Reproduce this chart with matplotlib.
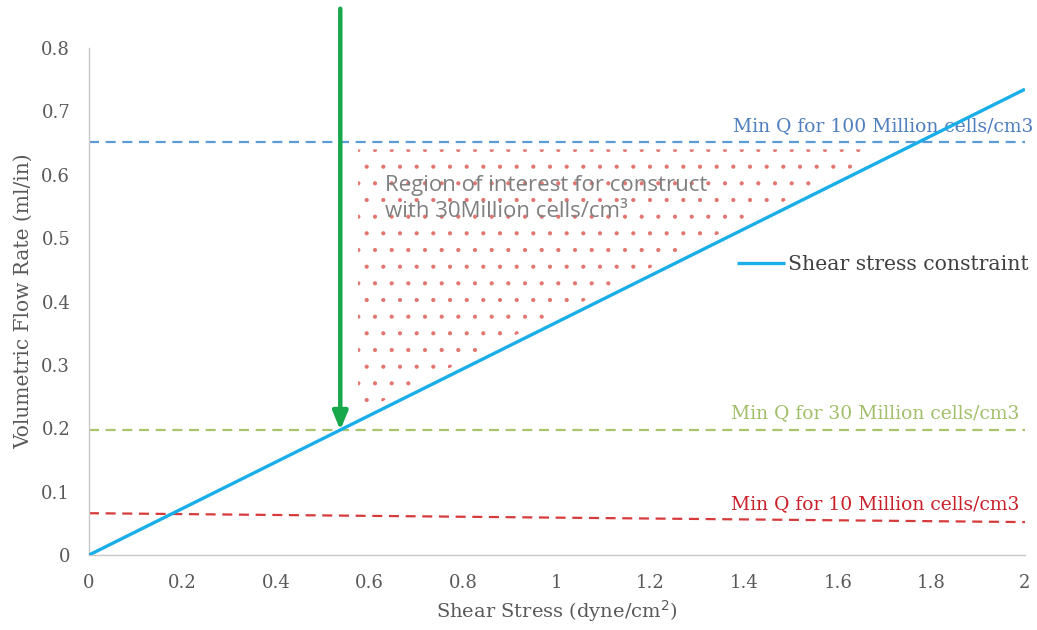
import matplotlib
matplotlib.use("Agg")
import matplotlib.pyplot as plt
import numpy as np

# Shear stress constraint line (dyne/cm^2 vs ml/in)
shear_x = [0.0, 2.0]
shear_q = [0.0, 0.735]

# Minimum flow rate for each cell density
minq_100_x = [0.0, 2.0]
minq_100_y = [0.651, 0.651]
minq_30_x = [0.0, 2.0]
minq_30_y = [0.197, 0.197]
minq_10_x = [0.0, 2.0]
minq_10_y = [0.066, 0.052]

# Operating point where 30M threshold meets the shear constraint
arrow_x = 0.537
arrow_top = 0.862
arrow_tip = 0.197

# Region of interest bounds
roi_x = [0.575, 1.66]
roi_top = 0.64

x_ticks = [0, 0.2, 0.4, 0.6, 0.8, 1, 1.2, 1.4, 1.6, 1.8, 2]
x_tick_labels = ["0", "0.2", "0.4", "0.6", "0.8", "1", "1.2", "1.4", "1.6", "1.8", "2"]
y_ticks = [0, 0.1, 0.2, 0.3, 0.4, 0.5, 0.6, 0.7, 0.8]
y_tick_labels = ["0", "0.1", "0.2", "0.3", "0.4", "0.5", "0.6", "0.7", "0.8"]

SERIF = ["DejaVu Serif"]
TICK_COLOR = "#595959"

plt.rcParams["hatch.linewidth"] = 0.55

fig = plt.figure(figsize=(10.37, 6.30), dpi=100)
ax = fig.add_axes([0.0858, 0.119, 0.9026, 0.8048])
ax.set_xlim(0, 2)
ax.set_ylim(0, 0.8)

# dotted region of interest above the shear line
slope = (shear_q[1] - shear_q[0]) / (shear_x[1] - shear_x[0])
xr = np.linspace(roi_x[0], roi_x[1], 200)
lower = np.minimum(slope * xr + 0.012, roi_top)
ax.fill_between(xr, lower, roi_top, facecolor="none", edgecolor="#e2746e",
                hatch=".", linewidth=0, zorder=1)

# threshold lines
ax.plot(minq_100_x, minq_100_y, color="#5b9bd5", lw=1.6, dashes=(4.5, 3), zorder=2)
ax.plot(minq_30_x, minq_30_y, color="#a9c46b", lw=1.6, dashes=(4.5, 3), zorder=2)
ax.plot(minq_10_x, minq_10_y, color="#d63a3a", lw=1.6, dashes=(4.5, 3), zorder=2)

# shear stress constraint
ax.plot(shear_x, shear_q, color="#1aaee8", lw=2.4, zorder=4,
        solid_capstyle="butt", label="Shear stress constraint")

# downward arrow to the operating point
ax.annotate("", xy=(arrow_x, arrow_tip), xytext=(arrow_x, arrow_top),
            arrowprops=dict(arrowstyle="-|>,head_length=1.1,head_width=0.45",
                            color="#16a84a", lw=3.2, shrinkA=0, shrinkB=0),
            annotation_clip=False, zorder=5)

# labels for the thresholds
ax.text(2.017, 0.676, "Min Q for 100 Million cells/cm3", color="#4f7fbf",
        ha="right", va="center", fontsize=13.5, family=SERIF)
ax.text(1.989, 0.224, "Min Q for 30 Million cells/cm3", color="#a2bf6a",
        ha="right", va="center", fontsize=13.5, family=SERIF)
ax.text(1.989, 0.081, "Min Q for 10 Million cells/cm3", color="#c9202a",
        ha="right", va="center", fontsize=13.5, family=SERIF)

ax.text(0.632, 0.562, "Region of interest for construct\nwith 30Million cells/cm\u00b3",
        color="#808080", ha="left", va="center", fontsize=16,
        family=["Open Sans", "DejaVu Sans"], linespacing=1.3, zorder=6)

leg = ax.legend(loc="upper left", bbox_to_anchor=(0.673, 0.628), frameon=False,
                handlelength=2.35, handletextpad=0.15,
                prop={"family": SERIF, "size": 14.7})
for t in leg.get_texts():
    t.set_color("#404040")

# axes styling
for side in ("top", "right"):
    ax.spines[side].set_visible(False)
for side in ("left", "bottom"):
    ax.spines[side].set_color("#c8c8c8")
    ax.spines[side].set_linewidth(1.0)

ax.set_xticks(x_ticks)
ax.set_xticklabels(x_tick_labels)
ax.set_yticks(y_ticks)
ax.set_yticklabels(y_tick_labels)
ax.tick_params(length=0, labelsize=13, labelcolor=TICK_COLOR)
ax.tick_params(axis="y", pad=13.5)
ax.tick_params(axis="x", pad=14)
for lbl in ax.get_xticklabels() + ax.get_yticklabels():
    lbl.set_family(SERIF)

ax.set_xlabel("Shear Stress (dyne/cm$^2$)", family=SERIF, fontsize=14,
              color=TICK_COLOR, labelpad=4)
ax.set_ylabel("Volumetric Flow Rate (ml/in)", family=SERIF, fontsize=14.5,
              color=TICK_COLOR, labelpad=6)

fig.savefig("out.png", dpi=100)
